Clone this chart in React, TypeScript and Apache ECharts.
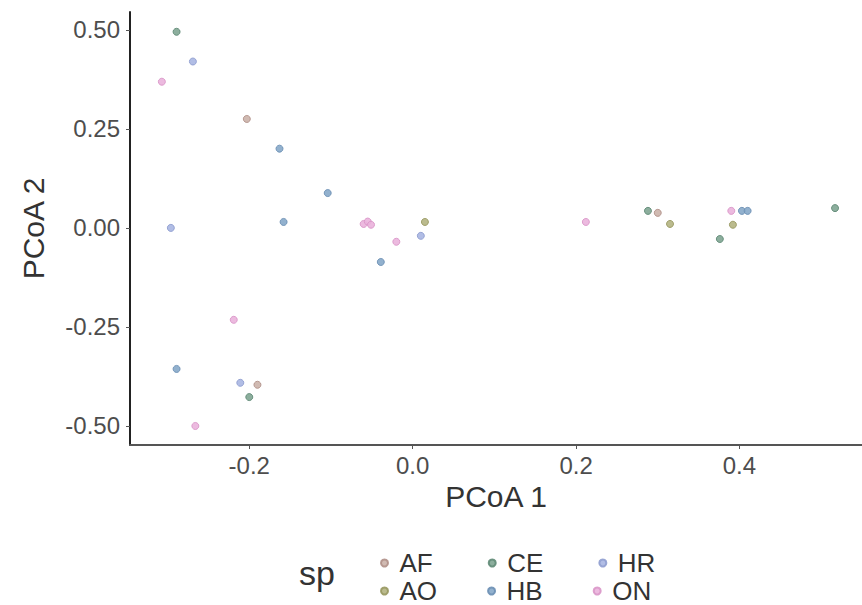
import React, { useEffect, useRef } from "react";
import * as echarts from "echarts";

const speciesRow1 = ["AF", "CE", "HR"];
const speciesRow2 = ["AO", "HB", "ON"];
const species = ["AF", "AO", "CE", "HB", "HR", "ON"];
const xTicks = [-0.2, 0.0, 0.2, 0.4];
const yTicks = [-0.5, -0.25, 0.0, 0.25, 0.5];

const pointsAF: number[][] = [[-0.203, 0.275], [0.3, 0.038], [-0.19, -0.396]];
const pointsAO: number[][] = [[0.015, 0.015], [0.315, 0.01], [0.392, 0.008]];
const pointsCE: number[][] = [[-0.289, 0.495], [0.288, 0.043], [0.376, -0.028], [0.517, 0.05], [-0.2, -0.427]];
const pointsHB: number[][] = [[-0.163, 0.2], [-0.104, 0.088], [-0.158, 0.015], [-0.039, -0.086], [0.403, 0.043], [0.41, 0.043], [-0.289, -0.356]];
const pointsHR: number[][] = [[-0.269, 0.42], [-0.296, 0.0], [0.01, -0.02], [-0.211, -0.391]];
const pointsON: number[][] = [[-0.307, 0.369], [-0.06, 0.01], [-0.055, 0.016], [-0.051, 0.008], [-0.02, -0.035], [0.212, 0.015], [0.39, 0.043], [-0.219, -0.232], [-0.266, -0.5]];

const seriesData: Record<string, number[][]> = {
  AF: pointsAF, AO: pointsAO, CE: pointsCE, HB: pointsHB, HR: pointsHR, ON: pointsON,
};
const colors: Record<string, string> = {
  AF: "#cbb2aa",
  AO: "#b4b482",
  CE: "#7fa592",
  HB: "#86a9c9",
  HR: "#a9b6e2",
  ON: "#eab2dc",
};
const borders: Record<string, string> = {
  AF: "#b09088",
  AO: "#989860",
  CE: "#5f8a76",
  HB: "#6b8fb4",
  HR: "#8f9dcf",
  ON: "#d996c8",
};

export default function App() {
  const ref = useRef<HTMLDivElement>(null);
  useEffect(() => {
    if (!ref.current) return;
    const chart = echarts.init(ref.current, undefined, { renderer: "svg" });
    const font = "'Liberation Sans', Arial, sans-serif";
    const legendBase = {
      orient: "horizontal" as const,
      left: 375,
      itemWidth: 20,
      itemHeight: 7,
      icon: "circle",
      itemGap: 55,
      textStyle: { fontSize: 26, color: "#333", fontFamily: font },
      selectedMode: false,
    };
    chart.setOption({
      animation: false,
      backgroundColor: "#fff",
      grid: { left: 130, right: 0, top: 12, bottom: 160, containLabel: false },
      xAxis: {
        type: "value",
        min: -0.346,
        max: 0.55,
        name: "PCoA 1",
        nameLocation: "middle",
        nameGap: 33,
        nameTextStyle: { fontSize: 30, color: "#333", fontFamily: font },
        axisLine: { show: true, onZero: false, lineStyle: { color: "#555", width: 2 } },
        axisTick: { show: true, length: 4, customValues: xTicks, lineStyle: { color: "#555" } },
        axisLabel: {
          customValues: xTicks,
          fontSize: 24,
          color: "#4d4d4d",
          fontFamily: font,
          margin: 8,
          formatter: (v: number) => v.toFixed(1),
        },
        splitLine: { show: false },
      },
      yAxis: {
        type: "value",
        min: -0.548,
        max: 0.545,
        name: "PCoA 2",
        nameLocation: "middle",
        nameGap: 82,
        nameTextStyle: { fontSize: 30, color: "#333", fontFamily: font },
        axisLine: { show: true, onZero: false, lineStyle: { color: "#222", width: 2 } },
        axisTick: { show: true, length: 4, customValues: yTicks, lineStyle: { color: "#555" } },
        axisLabel: {
          customValues: yTicks,
          fontSize: 24,
          color: "#4d4d4d",
          fontFamily: font,
          margin: 10,
          formatter: (v: number) => v.toFixed(2),
        },
        splitLine: { show: false },
      },
      legend: [
        { ...legendBase, top: 545, data: speciesRow1 },
        { ...legendBase, top: 573, itemGap: 50, data: speciesRow2 },
      ],
      graphic: [
        {
          type: "text",
          left: 299,
          top: 556,
          style: { text: "sp", fontSize: 34, fill: "#333", fontFamily: font },
        },
      ],
      series: species.map((s) => ({
        name: s,
        type: "scatter",
        data: seriesData[s],
        symbol: "circle",
        symbolSize: 7,
        itemStyle: { color: colors[s], borderColor: borders[s], borderWidth: 1, opacity: 0.9 },
      })),
    });
    return () => chart.dispose();
  }, []);
  return <div ref={ref} style={{ width: 862, height: 605, position: "absolute", left: 0, top: 0 }} />;
}
